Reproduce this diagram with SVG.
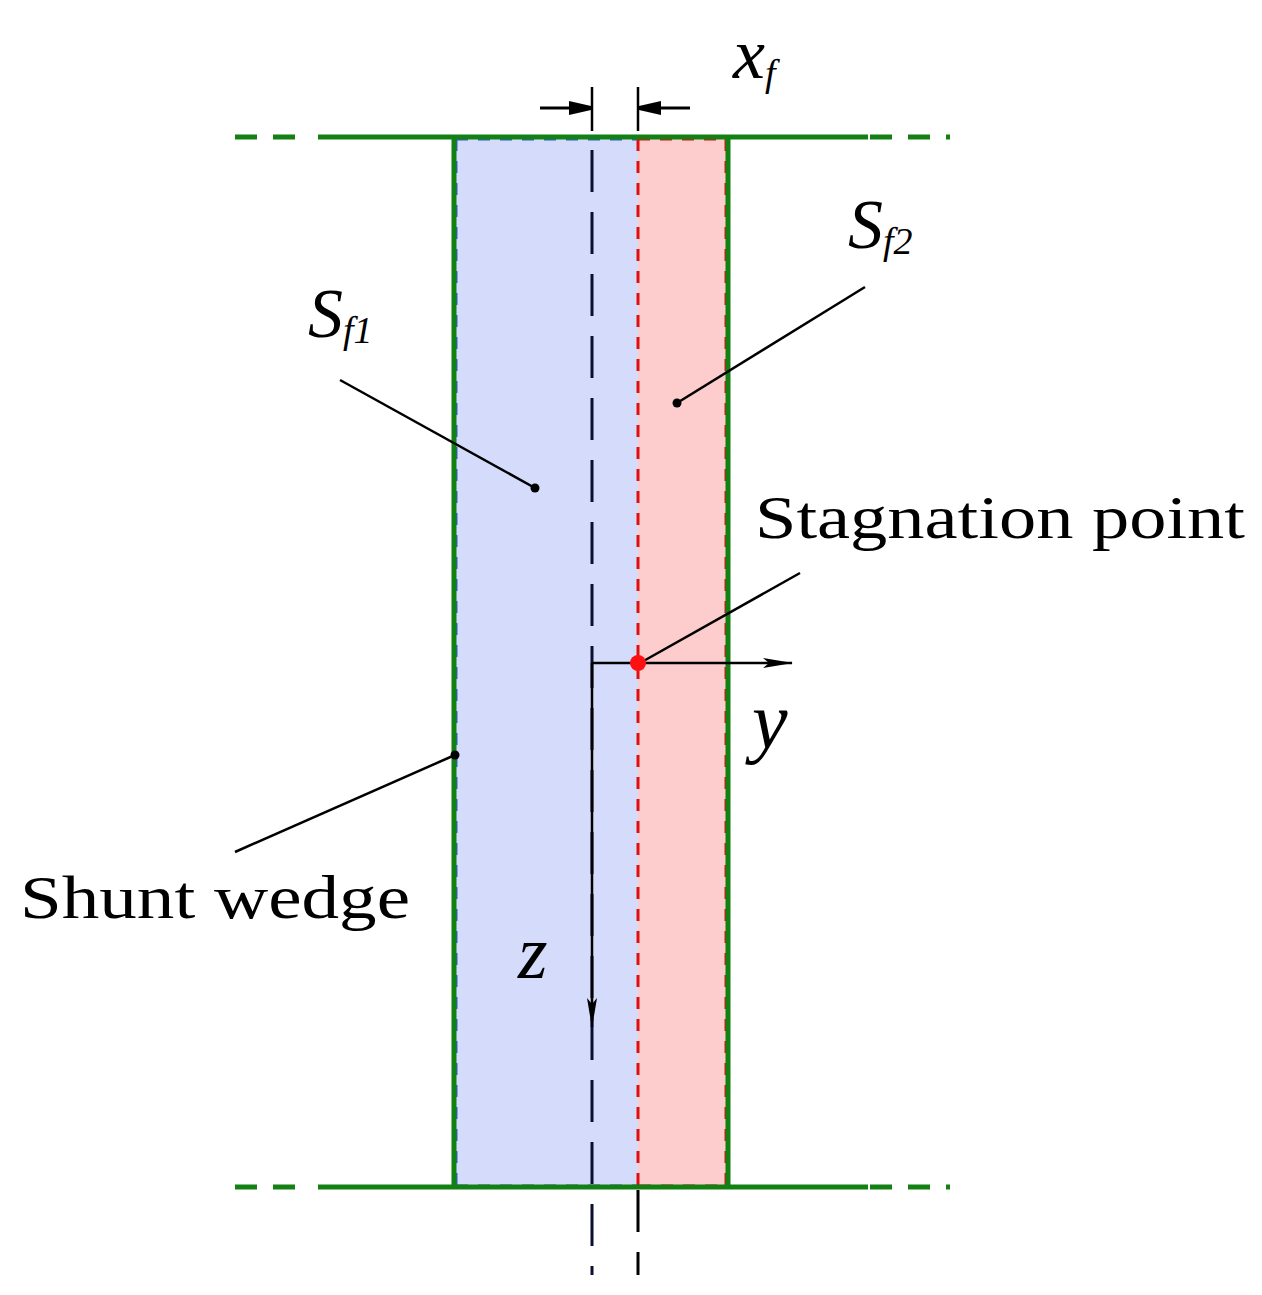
<svg xmlns="http://www.w3.org/2000/svg" width="1262" height="1295" viewBox="0 0 1262 1295">
<defs>
<style>
.t{font-family:"Liberation Serif",serif;fill:#000}
.i{font-style:italic}
.g{stroke:#138013;stroke-width:5;fill:none}
.k{stroke:#000;stroke-width:2.5;fill:none}
</style>
<marker id="a" markerWidth="30" markerHeight="12" refX="29" refY="6" orient="auto" markerUnits="userSpaceOnUse"><path d="M0,1 L30,6 L0,11 L6,6 Z" fill="#000"/></marker>
<marker id="b" markerWidth="22" markerHeight="18" refX="21" refY="9" orient="auto" markerUnits="userSpaceOnUse"><path d="M0,2 L22,7 L22,11 L0,16 Z" fill="#000"/></marker>
</defs>
<rect width="1262" height="1295" fill="#fff"/>
<g id="regions">
<rect x="456" y="139" width="182" height="1047" fill="#d5dcfb"/>
<rect x="638" y="139" width="88" height="1047" fill="#fdcccc"/>
<path d="M456,139 H638 M456,1186 H638 M456,139 V1186" stroke="#2a5fd0" stroke-width="3" stroke-dasharray="12,10" fill="none"/>
<path d="M638,139 H726 V1186 H638 M638,139 V1186" stroke="#e01010" stroke-width="3" stroke-dasharray="12,10" fill="none"/>
</g>
<g id="wedge">
<path class="g" d="M318,137 H868 M318,1187 H868 M454,137 V1187 M728,137 V1187"/>
<path class="g" d="M235,137 H310 M870,137 H950 M235,1187 H310 M870,1187 H950" stroke-dasharray="22,16"/>
</g>
<g id="connectors">
<path d="M592,150 V1275" stroke="#0a0f30" stroke-width="3" stroke-dasharray="42,20" fill="none"/>
<path d="M638,1190 V1275" stroke="#000" stroke-width="3" stroke-dasharray="42,20" fill="none"/>
<path class="k" d="M592,87 V131 M638,87 V131" stroke-width="3"/>
<path d="M540,108 H590" stroke="#000" stroke-width="3" marker-end="url(#b)"/>
<path d="M690,108 H640" stroke="#000" stroke-width="3" marker-end="url(#b)"/>
<path class="k" d="M592,663 H792" marker-end="url(#a)"/>
<path class="k" d="M592,663 V1027" marker-end="url(#a)"/>
<path class="k" d="M340,380 L535,488"/>
<path class="k" d="M865,287 L677,403"/>
<path class="k" d="M800,573 L640,663"/>
<path class="k" d="M235,852 L455,755"/>
<circle cx="535" cy="488" r="4.5"/>
<circle cx="677" cy="403" r="4.5"/>
<circle cx="455" cy="755" r="4.5"/>
<circle cx="638" cy="663" r="8" fill="#ff1010"/>
</g>
<g id="labels">
<text class="t i" x="733" y="78" font-size="72">x<tspan font-size="38" dy="8">f</tspan></text>
<text class="t i" x="848" y="248" font-size="70">S<tspan font-size="38" dy="6">f2</tspan></text>
<text class="t i" x="308" y="337" font-size="70">S<tspan font-size="38" dy="6">f1</tspan></text>
<text class="t" x="755" y="538" font-size="62" textLength="490" lengthAdjust="spacingAndGlyphs">Stagnation point</text>
<text class="t i" x="752" y="748" font-size="80">y</text>
<text class="t i" x="518" y="978" font-size="76" fill="#0a0f50">z</text>
<text class="t" x="20" y="918" font-size="62" textLength="390" lengthAdjust="spacingAndGlyphs">Shunt wedge</text>
</g>
</svg>
